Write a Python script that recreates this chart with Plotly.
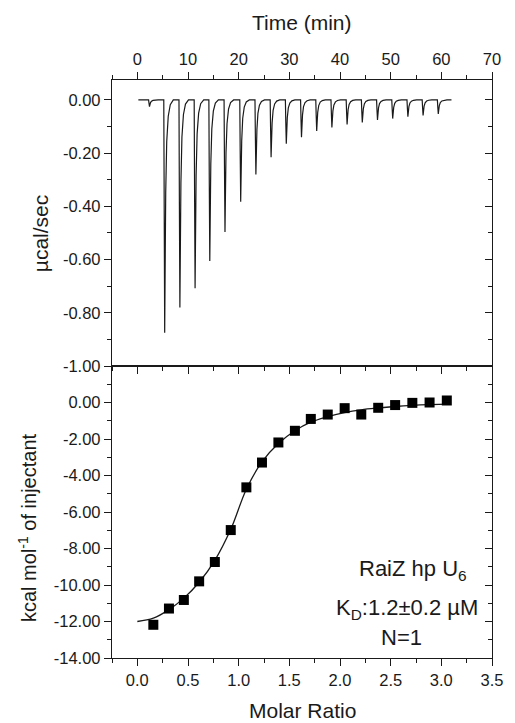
import plotly.graph_objects as go

# ---- Data ----
# Raw thermogram: injection times (min) and peak depths (µcal/sec)
injection_times = [2.3, 5.3, 8.3, 11.3, 14.2, 17.2, 20.3, 23.3, 26.3, 29.3, 32.3,
                   35.3, 38.3, 41.3, 44.3, 47.3, 50.3, 53.3, 56.3, 59.3]
peak_depths = [-0.025, -0.875, -0.78, -0.708, -0.605, -0.496, -0.383, -0.28, -0.215,
               -0.165, -0.14, -0.117, -0.103, -0.092, -0.085, -0.075, -0.07, -0.063,
               -0.058, -0.053]
baseline_start = 0.2
baseline_end = 62.0
# peak shape template (relative time offset in min, fraction of depth)
shape_offsets = [-0.08, 0.0, 0.1, 0.18, 0.3, 0.5, 0.8, 1.2, 1.8]
shape_fraction = [0.0, 0.5, 1.0, 0.75, 0.4, 0.18, 0.07, 0.02, 0.0]

# Integrated heats
molar_ratio = [0.158, 0.312, 0.459, 0.610, 0.765, 0.922, 1.076, 1.230, 1.392, 1.555,
               1.712, 1.879, 2.046, 2.210, 2.377, 2.544, 2.714, 2.884, 3.054]
heat = [-12.18, -11.29, -10.82, -9.80, -8.74, -6.99, -4.65, -3.29, -2.19, -1.55,
        -0.90, -0.66, -0.31, -0.66, -0.29, -0.14, -0.02, 0.00, 0.11]

# Fitted curve
fit_x = [0.0, 0.158, 0.312, 0.459, 0.610, 0.765, 0.922, 1.076, 1.230, 1.392, 1.555,
         1.712, 1.879, 2.046, 2.210, 2.377, 2.544, 2.714, 2.884, 3.07]
fit_y = [-12.0, -11.82, -11.35, -10.72, -9.85, -8.65, -6.95, -4.75, -3.25, -2.25, -1.55,
         -1.08, -0.78, -0.55, -0.40, -0.30, -0.22, -0.16, -0.12, -0.09]

time_ticks = [0, 10, 20, 30, 40, 50, 60, 70]
ratio_ticks = [0.0, 0.5, 1.0, 1.5, 2.0, 2.5, 3.0, 3.5]
power_ticks = [-1.0, -0.8, -0.6, -0.4, -0.2, 0.0]
heat_ticks = [-14, -12, -10, -8, -6, -4, -2, 0]

# ---- Build thermogram line ----
tx, ty = [baseline_start], [0.0]
for t0, d in zip(injection_times, peak_depths):
    for o, f in zip(shape_offsets, shape_fraction):
        tx.append(t0 + o)
        ty.append(d * f)
tx.append(baseline_end)
ty.append(0.0)

FONT = "Liberation Sans, Arial, sans-serif"
INK = "#1a1a1a"

fig = go.Figure()
fig.add_trace(go.Scatter(x=tx, y=ty, mode="lines", xaxis="x2", yaxis="y2",
                         line=dict(color=INK, width=1.2), showlegend=False))
fig.add_trace(go.Scatter(x=fit_x, y=fit_y, mode="lines", xaxis="x", yaxis="y",
                         line=dict(color=INK, width=1.3, shape="spline"), showlegend=False))
fig.add_trace(go.Scatter(x=molar_ratio, y=heat, mode="markers", xaxis="x", yaxis="y",
                         marker=dict(symbol="square", size=10, color="black"),
                         showlegend=False))
# dummy traces for right-hand inside tick axes
fig.add_trace(go.Scatter(x=[None], y=[None], xaxis="x", yaxis="y3", showlegend=False))
fig.add_trace(go.Scatter(x=[None], y=[None], xaxis="x2", yaxis="y4", showlegend=False))

def fmt(v, n):
    s = f"{v:.{n}f}"
    return "0." + "0" * n if s.startswith("-") and float(s) == 0 else s

common = dict(showline=True, linecolor=INK, linewidth=1.3, ticks="outside", ticklen=7,
              tickwidth=1.2, tickcolor=INK, showgrid=False, zeroline=False,
              tickfont=dict(family=FONT, size=16.5, color=INK))

split = 292 / 578

fig.update_layout(
    width=515, height=723,
    margin=dict(l=112, r=14, t=80, b=65),
    paper_bgcolor="white", plot_bgcolor="white",
    xaxis=dict(common, domain=[0, 1], anchor="y", range=[-0.25, 3.5],
               tickvals=ratio_ticks, ticktext=[fmt(v, 1) for v in ratio_ticks],
               minor=dict(ticks="outside", ticklen=4, dtick=0.25, tick0=0, tickcolor=INK),
               mirror=True),
    xaxis2=dict(common, domain=[0, 1], anchor="y2", side="top", range=[-5, 70],
                tickvals=time_ticks, ticktext=[str(v) for v in time_ticks],
                minor=dict(ticks="outside", ticklen=4, dtick=5, tick0=0, tickcolor=INK),
                mirror="ticks"),
    yaxis=dict(common, domain=[0, split], anchor="x", range=[-14, 2],
               tickvals=heat_ticks, ticktext=[fmt(v, 2) for v in heat_ticks],
               minor=dict(ticks="outside", ticklen=4, dtick=1, tick0=0, tickcolor=INK),
               mirror=True),
    yaxis2=dict(common, domain=[split, 1], anchor="x2", range=[-1.0, 0.075],
                tickvals=power_ticks, ticktext=[fmt(v, 2) for v in power_ticks],
                minor=dict(ticks="outside", ticklen=4, dtick=0.1, tick0=0, tickcolor=INK),
                mirror=True),
    yaxis3=dict(overlaying="y", side="right", anchor="x", range=[-14, 2],
                tickvals=heat_ticks, showticklabels=False, ticks="inside", ticklen=7,
                tickwidth=1.2, tickcolor=INK, showline=False, showgrid=False, zeroline=False,
                minor=dict(ticks="inside", ticklen=4, dtick=1, tick0=0, tickcolor=INK)),
    yaxis4=dict(overlaying="y2", side="right", anchor="x2", range=[-1.0, 0.075],
                tickvals=power_ticks, showticklabels=False, ticks="inside", ticklen=7,
                tickwidth=1.2, tickcolor=INK, showline=False, showgrid=False, zeroline=False,
                minor=dict(ticks="inside", ticklen=4, dtick=0.1, tick0=0, tickcolor=INK)),
)

title_font = dict(family=FONT, size=21, color=INK)
ann_font = dict(family=FONT, size=22, color=INK)
fig.add_annotation(text="Time (min)", xref="paper", yref="paper", x=0.5, y=(658 - 22) / 578,
                   showarrow=False, font=title_font, xanchor="center", yanchor="middle")
fig.add_annotation(text="Molar Ratio", xref="paper", yref="paper", x=0.5, y=(658 - 710) / 578,
                   showarrow=False, font=title_font, xanchor="center", yanchor="middle")
fig.add_annotation(text="µcal/sec", xref="paper", yref="paper", x=(39.5 - 112) / 389,
                   y=(658 - 234) / 578, textangle=-90, showarrow=False, font=title_font,
                   xanchor="center", yanchor="middle")
fig.add_annotation(text="kcal mol<sup>-1</sup> of injectant", xref="paper", yref="paper",
                   x=(25 - 112) / 389, y=(658 - 528) / 578, textangle=-90, showarrow=False,
                   font=dict(family=FONT, size=20, color=INK), xanchor="center", yanchor="middle")

fig.add_annotation(text="RaiZ hp U<sub>6</sub>", xref="x", yref="y", x=2.72, y=-9.2,
                   showarrow=False, font=ann_font)
fig.add_annotation(text="K<sub>D</sub>:1.2±0.2 µM", xref="x", yref="y", x=2.66, y=-11.3,
                   showarrow=False, font=ann_font)
fig.add_annotation(text="N=1", xref="x", yref="y", x=2.61, y=-12.9,
                   showarrow=False, font=ann_font)

fig.write_html("out.html", config={"displayModeBar": False},
               post_script="document.body.style.margin='0';document.body.style.overflow='hidden';")
